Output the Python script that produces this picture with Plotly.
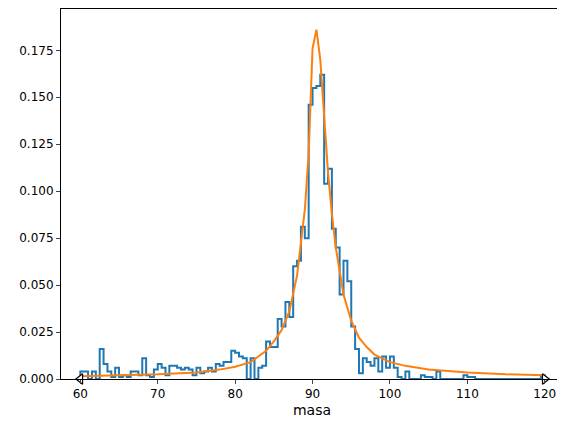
import plotly.graph_objects as go

bin_start = 60.0
bin_width = 0.5
counts = [
    0.004, 0.004, 0.0, 0.004, 0.0, 0.016, 0.008, 0.004, 0.001, 0.006,
    0.001, 0.002, 0.001, 0.004, 0.004, 0.002, 0.011, 0.002, 0.001, 0.005,
    0.008, 0.006, 0.002, 0.007, 0.007, 0.006, 0.005, 0.006, 0.005, 0.002,
    0.006, 0.003, 0.004, 0.006, 0.004, 0.008, 0.007, 0.009, 0.009, 0.015,
    0.014, 0.012, 0.011, 0.0, 0.011, 0.0, 0.006, 0.007, 0.020, 0.017,
    0.017, 0.032, 0.028, 0.041, 0.033, 0.060, 0.063, 0.081, 0.075, 0.146,
    0.155, 0.156, 0.162, 0.104, 0.112, 0.080, 0.070, 0.045, 0.063, 0.052,
    0.028, 0.016, 0.003, 0.011, 0.009, 0.007, 0.011, 0.004, 0.012, 0.006,
    0.012, 0.006, 0.001, 0.0, 0.004, 0.0, 0.0, 0.0, 0.002, 0.001,
    0.001, 0.0, 0.004, 0.0, 0.0, 0.0, 0.0, 0.0, 0.0, 0.002,
    0.001, 0.001, 0.0, 0.0, 0.0, 0.0, 0.0, 0.0, 0.0, 0.0,
    0.0, 0.0, 0.0, 0.0, 0.0, 0.0, 0.0, 0.0, 0.0, 0.002,
]

fit_x = [60, 65, 70, 75, 78, 80, 82, 83, 84, 85, 86, 87, 88, 89, 89.5, 90, 90.5,
         91, 91.5, 92, 92.5, 93, 94, 95, 96, 97, 98, 100, 102, 105, 110, 115, 120]
fit_y = [0.0015, 0.002, 0.0025, 0.0035, 0.005, 0.0065, 0.009, 0.012, 0.015,
         0.020, 0.026, 0.036, 0.055, 0.09, 0.12, 0.176, 0.186, 0.17, 0.14, 0.11,
         0.088, 0.07, 0.045, 0.031, 0.022, 0.017, 0.013, 0.009, 0.007, 0.005,
         0.0035, 0.0025, 0.002]

xticks = [60, 70, 80, 90, 100, 110, 120]
yticks = [0, 0.025, 0.05, 0.075, 0.1, 0.125, 0.15, 0.175]

edges = [bin_start + i * bin_width for i in range(len(counts) + 1)]
sx = [edges[0]] + edges + [edges[-1]]
sy = [0] + counts + [counts[-1], 0]

fig = go.Figure()
fig.add_trace(go.Scatter(x=sx, y=sy, mode="lines", line_shape="hv",
                         line=dict(color="#1f77b4", width=2), showlegend=False))
fig.add_trace(go.Scatter(x=fit_x, y=fit_y, mode="lines",
                         line=dict(color="#ff7f0e", width=2), showlegend=False))
fig.add_trace(go.Scatter(x=[60, 120], y=[0, 0], mode="markers",
                         marker=dict(symbol=["triangle-left", "triangle-right"], size=9,
                                     color="white", line=dict(color="black", width=1.2)),
                         showlegend=False, cliponaxis=False))

fig.update_layout(
    width=565, height=432, margin=dict(l=53, r=10, t=1, b=61, autoexpand=False),
    plot_bgcolor="white", paper_bgcolor="white",
    font=dict(family="DejaVu Sans", size=12, color="black"),
)
fig.update_xaxes(range=[57.5, 122.36], tickvals=xticks, ticks="outside", ticklen=4,
                 showgrid=False, zeroline=False, showline=True, linecolor="black",
                 mirror=True, automargin=False, title=dict(text="masa", standoff=4))
fig.update_yaxes(range=[0, 0.197], tickvals=yticks, tickformat=".3f", ticks="outside",
                 ticklen=4, showgrid=False, zeroline=False, showline=True,
                 linecolor="black", mirror=True, automargin=False)
fig.write_html("out.html")
